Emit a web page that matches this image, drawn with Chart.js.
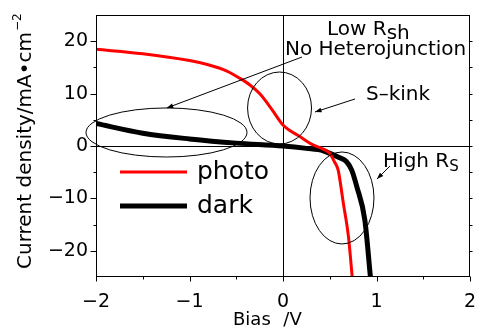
<!DOCTYPE html>
<html>
<head>
<meta charset="utf-8">
<script src="https://cdn.jsdelivr.net/npm/chart.js@4.4.1/dist/chart.umd.min.js"></script>
<style>
  html, body { margin: 0; padding: 0; background: #fff; }
  #wrap { width: 479px; height: 334px; }
</style>
</head>
<body>
<div id="wrap"><canvas id="jv-canvas"></canvas></div>
<script>
const FONT = '"DejaVu Sans", sans-serif';

// J-V curves: bias (V) vs current density (mA/cm2)
const photoBias = [-2, -1.5, -1.0, -0.8, -0.6, -0.46, -0.35, -0.25, -0.12, 0, 0.07, 0.18, 0.3, 0.43, 0.5, 0.55, 0.59, 0.645, 0.70, 0.74];
const photoJ    = [18.45, 17.6, 16.3, 15.5, 14.3, 12.9, 11.6, 10.0, 7.0, 4.0, 3.0, 1.8, 0.4, -0.6, -1.4, -3.0, -4.6, -10.9, -17.3, -25];
const darkBias  = [-2, -1.5, -1.0, -0.5, 0, 0.25, 0.43, 0.5, 0.6, 0.68, 0.735, 0.79, 0.875, 0.935];
const darkJ     = [4.3, 2.45, 1.35, 0.55, 0.0, -0.45, -0.9, -1.4, -2.2, -3.0, -4.6, -7.8, -14.1, -25];

const seriesNames  = ['photo', 'dark'];
const seriesColors = ['#ff0000', '#000000'];
const seriesWidths = [3, 5];

const xTicks = [-2, -1, 0, 1, 2];
const yTicks = [-20, -10, 0, 10, 20];

// annotation marks, in data units
const noteEllipses = [
  { cx: -1.246, cy: 2.58,  rx: 0.861, ry: 4.68 },
  { cx: -0.037, cy: 7.25,  rx: 0.342, ry: 6.87 },
  { cx: 0.631,  cy: -9.92, rx: 0.342, ry: 8.78 }
];
const noteArrows = [
  { x0: 0.203, y0: 16.98, x1: -1.244, y1: 7.25 },
  { x0: 0.77,  y0: 8.97,  x1: 0.342,  y1: 6.49 },
  { x0: 1.144, y0: -3.82, x1: 1.005,  y1: -6.30 }
];
const noteTexts = [
  { x: 0.471, y: 21.18, text: 'Low R', sub: 'sh' },
  { x: 0.021, y: 17.37, text: 'No Heterojunction' },
  { x: 0.888, y: 8.78,  text: 'S\u2013kink' },
  { x: 1.07,  y: -4.0,  text: 'High R', sub: 'S', subSmall: true }
];

const minus = v => String(v).replace('-', '\u2212');

const decorPlugin = {
  id: 'decor',
  beforeDatasetsDraw(chart) {
    const { ctx, chartArea: a, scales: { x, y } } = chart;
    ctx.save();
    ctx.strokeStyle = '#000';
    ctx.lineWidth = 1;
    ctx.beginPath();
    const x0 = Math.round(x.getPixelForValue(0)) + 0.5;
    const y0 = Math.round(y.getPixelForValue(0)) + 0.5;
    ctx.moveTo(x0, a.top); ctx.lineTo(x0, a.bottom);
    ctx.moveTo(a.left, y0); ctx.lineTo(a.right, y0);
    ctx.stroke();
    ctx.restore();
  },
  afterDraw(chart) {
    const { ctx, chartArea: a, scales: { x, y } } = chart;
    ctx.save();
    ctx.strokeStyle = '#000';
    ctx.fillStyle = '#000';
    ctx.lineWidth = 1;

    // frame
    const L = Math.round(a.left) + 0.5, R = Math.round(a.right) - 0.5;
    const T = Math.round(a.top) + 0.5, B = Math.round(a.bottom) - 0.5;
    ctx.strokeRect(L, T, R - L, B - T);

    // ticks, all pointing outward
    ctx.beginPath();
    for (let v = -20; v <= 20; v += 5) {
      const py = Math.round(y.getPixelForValue(v)) + 0.5;
      const major = v % 10 === 0;
      ctx.moveTo(L, py); ctx.lineTo(L - (major ? 6 : 3), py);
      ctx.moveTo(R, py); ctx.lineTo(R + 3, py);
    }
    for (let v = -2; v <= 2; v += 0.5) {
      const px = Math.round(x.getPixelForValue(v)) + 0.5;
      const major = Number.isInteger(v);
      ctx.moveTo(px, B); ctx.lineTo(px, B + (major ? 5 : 3));
    }
    ctx.stroke();

    // axis titles
    ctx.font = '18px ' + FONT;
    ctx.textBaseline = 'alphabetic';
    ctx.textAlign = 'left';
    ctx.fillText('Bias\u2002\u2009/V', 233, 325);

    ctx.save();
    ctx.translate(31, 269);
    ctx.rotate(-Math.PI / 2);
    ctx.font = '20px ' + FONT;
    const ytitle = 'Current density/mA\u2022cm';
    ctx.fillText(ytitle, 0, 0);
    const w = ctx.measureText(ytitle).width;
    ctx.font = '12px ' + FONT;
    ctx.fillText('\u22122', w + 1, -10);
    ctx.restore();

    // ellipses and arrows
    ctx.lineWidth = 1;
    noteEllipses.forEach(e => {
      const cx = x.getPixelForValue(e.cx), cy = y.getPixelForValue(e.cy);
      const rx = Math.abs(x.getPixelForValue(e.cx + e.rx) - cx);
      const ry = Math.abs(y.getPixelForValue(e.cy + e.ry) - cy);
      ctx.beginPath();
      ctx.ellipse(cx, cy, rx, ry, 0, 0, Math.PI * 2);
      ctx.stroke();
    });
    noteArrows.forEach(ar => {
      const px0 = x.getPixelForValue(ar.x0), py0 = y.getPixelForValue(ar.y0);
      const px1 = x.getPixelForValue(ar.x1), py1 = y.getPixelForValue(ar.y1);
      const ang = Math.atan2(py1 - py0, px1 - px0);
      ctx.beginPath();
      ctx.moveTo(px0, py0); ctx.lineTo(px1, py1);
      ctx.stroke();
      ctx.beginPath();
      ctx.moveTo(px1, py1);
      ctx.lineTo(px1 - 7 * Math.cos(ang - 0.35), py1 - 7 * Math.sin(ang - 0.35));
      ctx.lineTo(px1 - 7 * Math.cos(ang + 0.35), py1 - 7 * Math.sin(ang + 0.35));
      ctx.closePath();
      ctx.fill();
    });

    // annotation texts
    noteTexts.forEach(n => {
      const px = x.getPixelForValue(n.x), py = y.getPixelForValue(n.y);
      ctx.font = '20px ' + FONT;
      ctx.fillText(n.text, px, py);
      if (n.sub) {
        const tw = ctx.measureText(n.text).width;
        ctx.font = (n.subSmall ? '15px ' : '20px ') + FONT;
        ctx.fillText(n.sub, px + tw, py + 4);
      }
    });

    // legend inside plot
    chart.data.datasets.forEach((ds, i) => {
      const ly = a.top + 157 + i * 34;
      ctx.strokeStyle = ds.borderColor;
      ctx.lineWidth = ds.borderWidth;
      ctx.beginPath();
      ctx.moveTo(a.left + 24, ly); ctx.lineTo(a.left + 91, ly);
      ctx.stroke();
      ctx.fillStyle = '#000';
      ctx.font = '25px ' + FONT;
      ctx.textBaseline = 'middle';
      ctx.fillText(ds.label, a.left + 101, ly);
      ctx.textBaseline = 'alphabetic';
    });
    ctx.restore();
  }
};

new Chart(document.getElementById('jv-canvas'), {
  type: 'line',
  data: {
    datasets: [
      {
        label: seriesNames[0],
        data: photoBias.map((b, i) => ({ x: b, y: photoJ[i] })),
        borderColor: seriesColors[0],
        borderWidth: seriesWidths[0],
        pointRadius: 0,
        cubicInterpolationMode: 'monotone',
        fill: false
      },
      {
        label: seriesNames[1],
        data: darkBias.map((b, i) => ({ x: b, y: darkJ[i] })),
        borderColor: seriesColors[1],
        borderWidth: seriesWidths[1],
        pointRadius: 0,
        cubicInterpolationMode: 'monotone',
        fill: false
      }
    ]
  },
  options: {
    responsive: true, maintainAspectRatio: false,
    animation: false,
    layout: { padding: { top: 15, right: 9, left: 0, bottom: 0 } },
    plugins: { legend: { display: false }, tooltip: { enabled: false } },
    scales: {
      x: {
        type: 'linear', min: -2, max: 2,
        afterBuildTicks: s => { s.ticks = xTicks.map(v => ({ value: v })); },
        afterFit: s => { s.height = 57; s.paddingLeft = 0; s.paddingRight = 0; },
        grid: { display: false, drawTicks: false },
        border: { display: false },
        ticks: { color: '#000', padding: 14, font: { family: FONT, size: 19 }, callback: minus, maxRotation: 0 }
      },
      y: {
        type: 'linear', min: -25, max: 25,
        afterBuildTicks: s => { s.ticks = yTicks.map(v => ({ value: v })); },
        afterFit: s => { s.width = 96; s.paddingTop = 0; s.paddingBottom = 0; },
        grid: { display: false, drawTicks: false },
        border: { display: false },
        ticks: { color: '#000', padding: 8, font: { family: FONT, size: 19 }, callback: minus }
      }
    }
  },
  plugins: [decorPlugin]
});
</script>
</body>
</html>
